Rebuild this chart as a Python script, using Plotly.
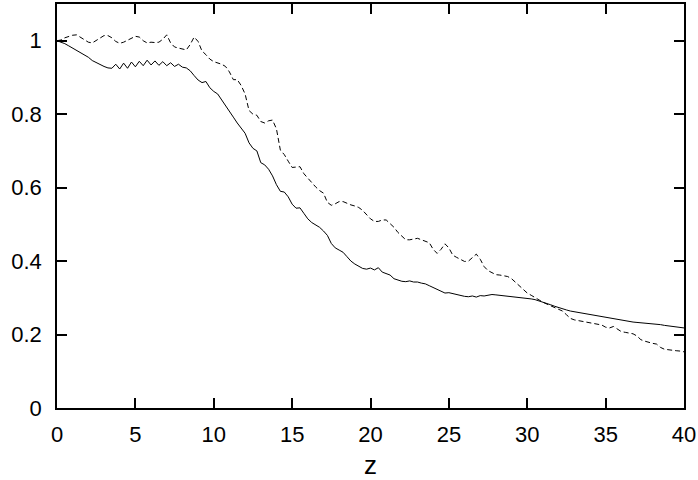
import numpy as np
import plotly.graph_objects as go

z = [i * 0.25 for i in range(161)]

solid = [
    1.000, 0.997, 0.992, 0.986, 0.980, 0.975, 0.968, 0.962, 0.955, 0.946,
    0.940, 0.934, 0.930, 0.926, 0.925, 0.936, 0.923, 0.939, 0.925, 0.942,
    0.929, 0.944, 0.932, 0.947, 0.934, 0.945, 0.933, 0.943, 0.932, 0.940,
    0.930, 0.936, 0.928, 0.926, 0.918, 0.905, 0.893, 0.886, 0.889, 0.872,
    0.862, 0.855, 0.840, 0.825, 0.807, 0.792, 0.776, 0.762, 0.748, 0.722,
    0.707, 0.700, 0.668, 0.662, 0.650, 0.632, 0.608, 0.590, 0.588, 0.575,
    0.555, 0.544, 0.545, 0.530, 0.515, 0.505, 0.498, 0.492, 0.482, 0.470,
    0.448, 0.436, 0.430, 0.424, 0.412, 0.400, 0.392, 0.386, 0.380, 0.378,
    0.381, 0.376, 0.382, 0.370, 0.366, 0.362, 0.352, 0.348, 0.345, 0.344,
    0.346, 0.343, 0.343, 0.340, 0.338, 0.333, 0.328, 0.322, 0.316, 0.313,
    0.314, 0.311, 0.310, 0.306, 0.304, 0.303, 0.305, 0.302, 0.306, 0.305,
    0.308, 0.309, 0.308, 0.307, 0.306, 0.305, 0.304, 0.303, 0.302, 0.301,
    0.299, 0.297, 0.295, 0.292, 0.289, 0.285, 0.281, 0.277, 0.273, 0.270,
    0.267, 0.264, 0.262, 0.260, 0.258, 0.256, 0.254, 0.252, 0.250, 0.248,
    0.246, 0.244, 0.242, 0.240, 0.239, 0.237, 0.236, 0.234, 0.233, 0.232,
    0.231, 0.231, 0.230, 0.229, 0.227, 0.225, 0.224, 0.222, 0.221, 0.219,
    0.218,
]

dashed = [
    1.000, 1.002, 1.008, 1.012, 1.015, 1.016, 1.010, 1.002, 0.996, 0.994,
    1.000, 1.008, 1.014, 1.014, 1.008, 0.998, 0.993, 0.996, 1.002, 1.008,
    1.012, 1.010, 1.000, 0.994, 0.996, 0.995, 0.996, 1.004, 1.016, 0.994,
    0.983, 0.980, 0.978, 0.975, 0.990, 1.010, 0.998, 0.972, 0.962, 0.950,
    0.943, 0.940, 0.936, 0.930, 0.915, 0.894, 0.894, 0.878, 0.855, 0.810,
    0.800, 0.797, 0.780, 0.776, 0.782, 0.784, 0.760, 0.702, 0.690, 0.672,
    0.655, 0.656, 0.657, 0.638, 0.625, 0.612, 0.602, 0.592, 0.585, 0.560,
    0.552, 0.556, 0.562, 0.562, 0.557, 0.553, 0.550, 0.546, 0.538, 0.525,
    0.515, 0.508, 0.508, 0.512, 0.512, 0.502, 0.492, 0.478, 0.468, 0.458,
    0.458, 0.461, 0.462, 0.458, 0.455, 0.450, 0.432, 0.421, 0.432, 0.447,
    0.436, 0.416, 0.410, 0.405, 0.399, 0.400, 0.410, 0.419, 0.405, 0.385,
    0.374, 0.368, 0.363, 0.362, 0.360, 0.358, 0.352, 0.342, 0.334, 0.322,
    0.313, 0.307, 0.300, 0.294, 0.288, 0.283, 0.278, 0.274, 0.270, 0.264,
    0.254, 0.244, 0.240, 0.238, 0.236, 0.232, 0.231, 0.230, 0.228, 0.226,
    0.220, 0.218, 0.222, 0.214, 0.208, 0.206, 0.204, 0.202, 0.196, 0.186,
    0.182, 0.178, 0.176, 0.174, 0.165, 0.160, 0.158, 0.157, 0.156, 0.155,
    0.153,
]

x_ticks = [0, 5, 10, 15, 20, 25, 30, 35, 40]
y_ticks = [0, 0.2, 0.4, 0.6, 0.8, 1]
y_tick_labels = ["0", "0.2", "0.4", "0.6", "0.8", "1"]

fig = go.Figure()
fig.add_trace(go.Scatter(x=z, y=solid, mode="lines",
                         line=dict(color="black", width=1), showlegend=False))
fig.add_trace(go.Scatter(x=z, y=dashed, mode="lines",
                         line=dict(color="black", width=1, dash="5px,3px"),
                         showlegend=False))

font = dict(family="Liberation Sans, Arial, sans-serif", size=22, color="black")
fig.update_layout(
    width=698, height=480,
    margin=dict(l=57, r=14, t=4, b=72),
    paper_bgcolor="white", plot_bgcolor="white",
    font=font,
    xaxis=dict(range=[0, 40], tickvals=x_ticks, ticks="inside", ticklen=10,
               tickwidth=1.5, tickcolor="black", showline=True, linecolor="black",
               linewidth=1.5, mirror="ticks", showgrid=False, zeroline=False,
               automargin=False,
               title=dict(text="z", standoff=14), ticklabelstandoff=6),
    yaxis=dict(range=[0, 1.1], tickvals=y_ticks, ticktext=y_tick_labels,
               ticks="inside", ticklen=10, tickwidth=1.5, tickcolor="black",
               showline=True, linecolor="black", linewidth=1.5, mirror="ticks",
               showgrid=False, zeroline=False, automargin=False,
               ticklabelstandoff=9),
)

fig.write_html("out.html")
